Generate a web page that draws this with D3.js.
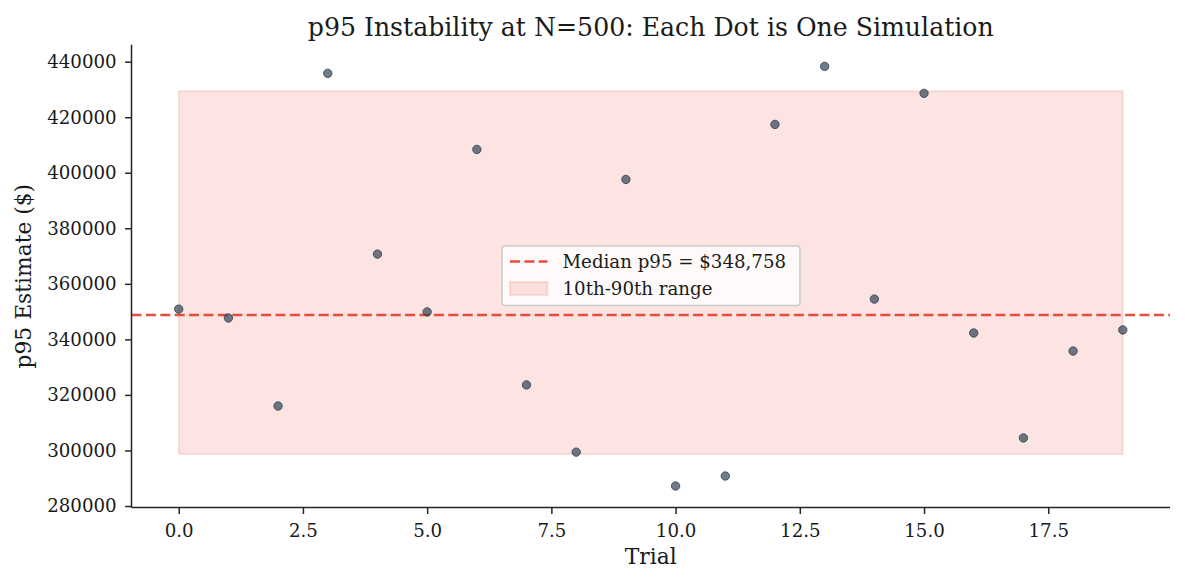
<!DOCTYPE html>
<html>
<head>
<meta charset="utf-8">
<script src="https://cdn.jsdelivr.net/npm/d3@7"></script>
<style>
  body { margin: 0; background: #fff; }
  text { font-family: 'DejaVu Serif', serif; fill: #1a1a1a; }
</style>
</head>
<body>
<div id="chart"></div>
<script>
// values
var trials = d3.range(20);
var p95 = [350900, 347700, 316000, 435800, 370700, 349900, 408400, 323600, 299400, 397600,
           287200, 290800, 417400, 438300, 354500, 428600, 342300, 304500, 335800, 343400];
var median = 348758;
var band = [298700, 429400];   // 10th - 90th
var xTicks = [0, 2.5, 5, 7.5, 10, 12.5, 15, 17.5];
var yTicks = [280000, 300000, 320000, 340000, 360000, 380000, 400000, 420000, 440000];

var W = 1185, H = 585;
var m = {left: 131.5, right: 1170, top: 44.8, bottom: 507.6};

var svg = d3.select('#chart').append('svg')
  .attr('width', W).attr('height', H);

var x = d3.scaleLinear().domain([-0.95, 19.95]).range([m.left, m.right]);
var y = d3.scaleLinear().domain([279425, 446075]).range([m.bottom, m.top]);

// ============== band + median ==============
svg.append('rect')
  .attr('x', x(0)).attr('width', x(19) - x(0))
  .attr('y', y(band[1])).attr('height', y(band[0]) - y(band[1]))
  .attr('fill', '#e74c3c').attr('fill-opacity', 0.15)
  .attr('stroke', '#e74c3c').attr('stroke-opacity', 0.15).attr('stroke-width', 1.8);

svg.append('line')
  .attr('x1', m.left).attr('x2', m.right)
  .attr('y1', y(median)).attr('y2', y(median))
  .attr('stroke', '#e74c3c').attr('stroke-width', 2.6)
  .attr('stroke-dasharray', '10,4.4');

// ============== dots ==============
svg.selectAll('.dot')
  .data(trials)
  .enter()
  .append('circle')
  .attr('class', 'dot')
  .attr('cx', (d) => x(d))
  .attr('cy', (d) => y(p95[d]))
  .attr('r', 4.2)
  .attr('fill', '#2c3e50').attr('fill-opacity', 0.68)
  .attr('stroke', '#2c3e50').attr('stroke-opacity', 0.8).attr('stroke-width', 1);

// ============== axes ==============
var xAxis = svg.append('g')
  .attr('transform', 'translate(0,' + m.bottom + ')')
  .call(d3.axisBottom(x).tickValues(xTicks).tickFormat(d3.format('.1f')).tickSize(6.4).tickPadding(10));
var yAxis = svg.append('g')
  .attr('transform', 'translate(' + m.left + ',0)')
  .call(d3.axisLeft(y).tickValues(yTicks).tickFormat(d3.format('d')).tickSize(6.4).tickPadding(8.5));

[xAxis, yAxis].forEach(function(a){
  a.select('.domain').attr('stroke', '#262626').attr('stroke-width', 1.5);
  a.selectAll('.tick line').attr('stroke', '#262626').attr('stroke-width', 1.5);
  a.selectAll('.tick text').attr('font-family', 'DejaVu Serif').attr('font-size', 18.2).attr('fill', '#1a1a1a');
});
xAxis.select('.domain').attr('d', 'M' + m.left + ',0H' + m.right);
yAxis.select('.domain').attr('d', 'M0,' + m.bottom + 'V' + m.top);

// ============== labels ==============
svg.append('text')
  .attr('x', (m.left + m.right) / 2).attr('y', 36)
  .attr('text-anchor', 'middle').attr('font-size', 25.2)
  .text('p95 Instability at N=500: Each Dot is One Simulation');

svg.append('text')
  .attr('x', (m.left + m.right) / 2).attr('y', 564)
  .attr('text-anchor', 'middle').attr('font-size', 21.8)
  .text('Trial');

svg.append('text')
  .attr('transform', 'translate(31,' + ((m.top + m.bottom) / 2) + ') rotate(-90)')
  .attr('text-anchor', 'middle').attr('font-size', 21.8)
  .text('p95 Estimate ($)');

// ============== legend ==============
var lg = svg.append('g').attr('transform', 'translate(502,246)');
lg.append('rect')
  .attr('width', 298).attr('height', 59.5).attr('rx', 3)
  .attr('fill', '#fff').attr('fill-opacity', 0.8)
  .attr('stroke', '#cccccc').attr('stroke-width', 1.5);
lg.append('line')
  .attr('x1', 8).attr('x2', 45.5).attr('y1', 15.5).attr('y2', 15.5)
  .attr('stroke', '#e74c3c').attr('stroke-width', 2.6).attr('stroke-dasharray', '10,4.4');
lg.append('rect')
  .attr('x', 8).attr('y', 36).attr('width', 37.5).attr('height', 13)
  .attr('fill', '#e74c3c').attr('fill-opacity', 0.15)
  .attr('stroke', '#e74c3c').attr('stroke-opacity', 0.15).attr('stroke-width', 1.8);
lg.selectAll('.lg-text')
  .data(['Median p95 = $' + d3.format(',')(median), '10th-90th range'])
  .enter()
  .append('text')
  .attr('x', 60.5)
  .attr('y', (d, i) => i ? 49 : 21.8)
  .attr('font-size', 18.2)
  .text((d) => d);
</script>
</body>
</html>
